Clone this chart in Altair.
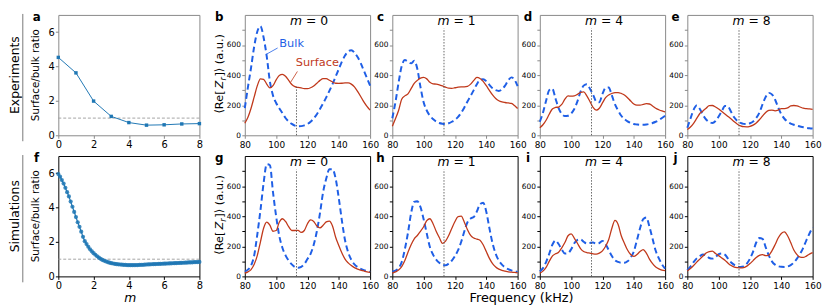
import altair as alt
import pandas as pd

# ---------------- data ----------------
M_EXP = [0, 1, 2, 3, 4, 5, 6, 7, 8]
RATIO_EXP = [4.53, 3.63, 1.99, 1.10, 0.74, 0.59, 0.61, 0.66, 0.68]

M_SIM = [round(i * 0.1, 1) for i in range(81)]
RATIO_SIM = [5.95, 5.80, 5.60, 5.40, 5.15, 4.90, 4.65, 4.35, 4.05, 3.75,
             3.45, 3.15, 2.88, 2.60, 2.30, 2.05, 1.88, 1.72, 1.58, 1.46,
             1.35, 1.26, 1.17, 1.09, 1.02, 0.96, 0.91, 0.87, 0.83, 0.80,
             0.77, 0.75, 0.73, 0.71, 0.70, 0.69, 0.68, 0.67, 0.665, 0.66,
             0.655, 0.655, 0.655, 0.655, 0.66, 0.66, 0.665, 0.67, 0.675, 0.68,
             0.69, 0.695, 0.70, 0.705, 0.71, 0.715, 0.72, 0.725, 0.73, 0.735,
             0.74, 0.745, 0.75, 0.755, 0.76, 0.765, 0.77, 0.775, 0.78, 0.785,
             0.79, 0.795, 0.80, 0.805, 0.81, 0.815, 0.82, 0.825, 0.83, 0.835, 0.84]

FREQ = list(range(80, 161, 2))

EXP_M0_BULK = [180, 320, 450, 590, 690, 725, 650, 525, 360, 265, 215, 180, 148, 115, 92, 76, 64, 60, 61, 66, 75,
               90, 112, 140, 175, 212, 252, 295, 340, 390, 440, 490, 530, 558, 565, 550, 520, 480, 430, 380, 330]
EXP_M0_SURF = [80, 120, 180, 255, 330, 375, 372, 340, 315, 330, 368, 398, 405, 392, 365, 338, 323, 318, 315, 310, 310,
               316, 328, 346, 365, 377, 376, 366, 354, 346, 345, 346, 348, 348, 340, 322, 292, 258, 222, 192, 167]
EXP_M1_BULK = [113, 220, 350, 460, 500, 490, 478, 495, 440, 320, 220, 165, 130, 108, 92, 82, 77, 75, 80, 90, 103,
               122, 150, 185, 225, 262, 300, 340, 368, 372, 360, 335, 312, 300, 295, 305, 330, 365, 385, 370, 327]
EXP_M1_SURF = [60, 110, 165, 240, 262, 275, 310, 345, 365, 380, 385, 375, 352, 342, 340, 335, 328, 320, 313, 312, 316,
               320, 322, 322, 325, 340, 365, 385, 378, 358, 330, 298, 268, 245, 230, 222, 218, 215, 212, 198, 178]
EXP_M4_BULK = [90, 150, 230, 300, 310, 245, 180, 142, 128, 130, 145, 175, 225, 290, 330, 340, 310, 270, 225, 220, 275,
               315, 318, 265, 205, 165, 130, 108, 92, 82, 75, 72, 70, 70, 72, 76, 82, 90, 100, 115, 130]
EXP_M4_SURF = [50, 70, 100, 140, 175, 185, 188, 205, 240, 262, 260, 262, 272, 285, 288, 262, 225, 185, 167, 180, 215,
               250, 268, 278, 284, 284, 278, 268, 250, 228, 208, 200, 200, 205, 210, 208, 195, 180, 170, 162, 156]
EXP_M8_BULK = [50, 110, 170, 198, 175, 135, 105, 88, 82, 95, 125, 160, 195, 190, 155, 118, 95, 82, 76, 75, 80,
               92, 115, 150, 205, 255, 282, 272, 238, 185, 140, 110, 90, 78, 70, 64, 58, 54, 50, 47, 45]
EXP_M8_SURF = [38, 55, 80, 112, 145, 162, 180, 197, 198, 188, 175, 158, 142, 125, 108, 90, 74, 63, 57, 56, 60,
               68, 82, 103, 128, 152, 165, 168, 163, 168, 178, 178, 182, 195, 198, 195, 188, 180, 177, 175, 173]

SIM_M0_BULK = [32, 45, 72, 140, 280, 440, 620, 745, 740, 560, 400, 270, 190, 140, 105, 80, 62, 57, 63, 82, 115,
               150, 210, 300, 420, 560, 650, 712, 712, 650, 520, 370, 240, 160, 110, 80, 62, 50, 42, 36, 30]
SIM_M0_SURF = [21, 30, 45, 80, 140, 230, 320, 360, 340, 300, 305, 360, 383, 365, 330, 305, 305, 306, 292, 305, 350,
               375, 365, 335, 322, 340, 362, 368, 335, 260, 205, 155, 115, 90, 72, 58, 48, 42, 36, 30, 26]
SIM_M1_BULK = [32, 38, 55, 95, 180, 290, 420, 495, 500, 460, 380, 285, 195, 145, 112, 90, 77, 74, 85, 105, 135,
               175, 230, 300, 360, 385, 395, 432, 480, 490, 430, 320, 220, 150, 105, 78, 60, 48, 40, 34, 30]
SIM_M1_SURF = [21, 30, 42, 65, 105, 160, 210, 250, 272, 300, 330, 370, 383, 350, 300, 258, 220, 235, 272, 320, 365,
               398, 400, 360, 310, 272, 255, 248, 240, 210, 165, 120, 85, 62, 48, 40, 35, 30, 28, 26, 24]
SIM_M4_BULK = [32, 55, 95, 150, 210, 238, 215, 178, 152, 155, 180, 220, 242, 246, 230, 218, 222, 225, 218, 222, 236,
               215, 175, 135, 108, 96, 90, 90, 100, 125, 165, 240, 320, 380, 392, 330, 250, 170, 120, 80, 52]
SIM_M4_SURF = [21, 35, 60, 100, 135, 150, 160, 190, 225, 270, 283, 255, 220, 185, 165, 158, 155, 150, 148, 155, 170,
               200, 245, 320, 372, 345, 270, 220, 175, 145, 133, 145, 165, 178, 155, 115, 85, 62, 50, 42, 38]
SIM_M8_BULK = [42, 65, 95, 120, 135, 145, 140, 122, 118, 128, 148, 152, 145, 118, 92, 76, 66, 63, 66, 85, 118,
               165, 225, 255, 250, 195, 140, 100, 78, 68, 64, 63, 66, 75, 92, 118, 150, 190, 240, 285, 326]
SIM_M8_SURF = [36, 52, 72, 95, 115, 135, 155, 165, 168, 152, 138, 122, 108, 88, 72, 62, 58, 56, 58, 68, 85,
               105, 125, 140, 145, 138, 142, 170, 210, 255, 285, 296, 270, 225, 175, 145, 128, 126, 135, 148, 158]

X_TICKS = [80, 100, 120, 140, 160]
Y_TICKS = [0, 100, 200, 300, 400, 500, 600, 700]

# ---------------- style ----------------
BLUE = "#1f5fe6"
RED = "#c0391b"
MBLUE = "#1f77b4"
GRAY_FRAME = "#888888"
W_A, W_S, H = 143, 127, 122
ONE = pd.DataFrame({"k": [0]})


def txt(s, x, y, **kw):
    props = dict(text=s, font="DejaVu Sans")
    props.update(kw)
    return alt.Chart(ONE).mark_text(**props).encode(x=alt.value(x), y=alt.value(y))


def seg(x1, y1, x2, y2, color="#444", width=0.8):
    return alt.Chart(ONE).mark_rule(color=color, strokeWidth=width).encode(
        x=alt.value(x1), y=alt.value(y1), x2=alt.value(x2), y2=alt.value(y2))


def zr_title(x, ybottom):
    fs = 11.5
    parts = []
    y = ybottom
    parts.append(txt("\u27e8Re[", x, y, fontSize=fs, angle=270, align="left", baseline="middle"))
    y -= 25.5
    parts.append(txt("Z", x, y, fontSize=fs, angle=270, align="left", baseline="middle",
                     fontStyle="italic"))
    y -= 8.0
    parts.append(txt("r", x + 3, y, fontSize=8.5, angle=270, align="left", baseline="middle",
                     fontStyle="italic"))
    y -= 4.0
    parts.append(txt("]\u27e9 (a.u.)", x, y, fontSize=fs, angle=270, align="left",
                     baseline="middle"))
    return parts


def ratio_panel(ms, vals, letter, row_label, top, dense):
    frame = GRAY_FRAME if top else "#000000"
    df = pd.DataFrame({"m": ms, "r": vals})
    xs = alt.X("m:Q", scale=alt.Scale(domain=[0, 8], nice=False),
               axis=alt.Axis(values=[0, 2, 4, 6, 8], title=None, grid=False, domain=False,
                             tickSize=3, tickColor=frame, labelFontSize=10, labelFlush=False,
                             labelPadding=1, labelColor="#000", labelOverlap=False))
    ys = alt.Y("r:Q", scale=alt.Scale(domain=[0, 7], nice=False),
               axis=alt.Axis(values=[0, 1, 2, 3, 4, 5, 6], title=None, grid=False, domain=False,
                             tickSize=3, tickColor=frame, labelFontSize=10, labelPadding=1,
                             labelColor="#000", labelOverlap=False))
    one_line = alt.Chart(ONE).mark_rule(color="#9a9a9a", strokeDash=[3, 2], strokeWidth=0.9).encode(
        y=alt.datum(1))
    if dense:
        line = alt.Chart(df).mark_line(color=MBLUE, strokeWidth=1.2).encode(x=xs, y=ys)
        pts = alt.Chart(df).mark_circle(color=MBLUE, size=18, opacity=0.85).encode(x=xs, y=ys)
    else:
        line = alt.Chart(df).mark_line(color=MBLUE, strokeWidth=1).encode(x=xs, y=ys)
        pts = alt.Chart(df).mark_square(color=MBLUE, size=12, opacity=1).encode(x=xs, y=ys)
    layers = [one_line, line, pts,
              txt(letter, -22, 6, fontSize=12, fontWeight="bold", baseline="alphabetic"),
              txt(row_label, -44, 61, fontSize=12.5, angle=270, baseline="middle", align="center"),
              seg(-36, -1, -36, 128, color="#555", width=0.8),
              txt("Surface/bulk ratio", -23, 61, fontSize=10.5, angle=270, baseline="middle",
                  align="center")]
    if not top:
        layers.append(txt("m", 73, 143.5, fontSize=12.5, fontStyle="italic", baseline="middle",
                          align="center"))
    return alt.layer(*layers).properties(
        width=W_A, height=H, view=alt.ViewBackground(stroke=frame, strokeWidth=1))


def spec_panel(bulk, surf, letter, mval, top, first=False, dotted_top=710, extra=()):
    frame = GRAY_FRAME if top else "#000000"
    df = pd.DataFrame({"f": FREQ, "bulk": bulk, "surf": surf})
    ref = pd.DataFrame({"f": [113], "lo": [0], "hi": [dotted_top]})
    xaxis = alt.Axis(values=X_TICKS, title=None, grid=False, domain=False,
                     tickSize=3, tickColor=frame, labelFontSize=9, labelFlush=False,
                     labelPadding=2, labelColor="#000", labelOverlap=False)
    yaxis = alt.Axis(values=Y_TICKS,
                     labelExpr="datum.value % 200 == 0 ? datum.label : ''",
                     title=None, grid=False, domain=False, tickSize=3, tickColor=frame,
                     labelFontSize=7.5, labelPadding=1.5, labelColor="#000", labelOverlap=False)
    xsc = alt.Scale(domain=[80, 160], nice=False, zero=False)
    ysc = alt.Scale(domain=[0, 800], nice=False)
    X = alt.X("f:Q", scale=xsc, axis=xaxis)
    bl = alt.Chart(df).mark_line(color=BLUE, strokeDash=[6, 3.5], strokeWidth=2,
                                 interpolate="monotone").encode(
        x=X, y=alt.Y("bulk:Q", scale=ysc, axis=yaxis))
    sl = alt.Chart(df).mark_line(color=RED, strokeWidth=1.3, interpolate="monotone").encode(
        x=X, y=alt.Y("surf:Q", scale=ysc, axis=yaxis))
    dot = alt.Chart(ref).mark_rule(color="#555", strokeDash=[1.5, 1.5], strokeWidth=0.9).encode(
        x=X, y=alt.Y("lo:Q", scale=ysc, axis=yaxis), y2="hi:Q")
    mpos = pd.DataFrame({"f": [121]})
    mt1 = alt.Chart(mpos).mark_text(text="m", fontSize=12.5, fontStyle="italic", align="right",
                                    baseline="alphabetic", dx=-7, font="DejaVu Sans").encode(
        x=X, y=alt.value(10.5))
    mt2 = alt.Chart(mpos).mark_text(text="= " + mval, fontSize=12.5, align="left",
                                    baseline="alphabetic", dx=-3, font="DejaVu Sans").encode(
        x=X, y=alt.value(10.5))
    lx = -26 if first else -12
    layers = [bl, sl, dot, mt1, mt2,
              txt(letter, lx, 6, fontSize=12, fontWeight="bold", baseline="alphabetic")]
    if first:
        layers.extend(zr_title(-25, 100))
    layers.extend(extra)
    return alt.layer(*layers).properties(
        width=W_S, height=H, view=alt.ViewBackground(stroke=frame, strokeWidth=1))


def spacer():
    return alt.Chart(ONE).mark_point(opacity=0).encode(
        x=alt.value(0), y=alt.value(0)).properties(
        width=1, height=H, view=alt.ViewBackground(stroke=None))


legend_b = [
    txt("Bulk", 35, 29.6, fontSize=11.5, color=BLUE, align="left", baseline="middle"),
    seg(21.6, 40, 33.3, 33.5, color=BLUE, width=0.8),
    txt("Surface", 51.6, 48.8, fontSize=11.5, color=RED, align="left", baseline="middle"),
    seg(46.6, 68, 53.3, 57.3, color=RED, width=0.8),
]
freq_title = [txt("Frequency (kHz)", 131, 143.5, fontSize=13, align="center", baseline="middle")]

panels = [
    ratio_panel(M_EXP, RATIO_EXP, "a", "Experiments", True, False),
    spacer(),
    spec_panel(EXP_M0_BULK, EXP_M0_SURF, "b", "0", True, first=True, dotted_top=322, extra=legend_b),
    spec_panel(EXP_M1_BULK, EXP_M1_SURF, "c", "1", True),
    spec_panel(EXP_M4_BULK, EXP_M4_SURF, "d", "4", True),
    spec_panel(EXP_M8_BULK, EXP_M8_SURF, "e", "8", True),
    ratio_panel(M_SIM, RATIO_SIM, "f", "Simulations", False, True),
    spacer(),
    spec_panel(SIM_M0_BULK, SIM_M0_SURF, "g", "0", False, first=True),
    spec_panel(SIM_M1_BULK, SIM_M1_SURF, "h", "1", False, extra=freq_title),
    spec_panel(SIM_M4_BULK, SIM_M4_SURF, "i", "4", False),
    spec_panel(SIM_M8_BULK, SIM_M8_SURF, "j", "8", False),
]

chart = alt.concat(*panels, columns=6, spacing={"row": 21, "column": 22.5},
                   bounds="flush").properties(padding=0).configure(
    font="DejaVu Sans").configure_axis(labelFont="DejaVu Sans", labelOverlap=False)

chart.save("out.html", embed_options={"renderer": "svg", "actions": False})
